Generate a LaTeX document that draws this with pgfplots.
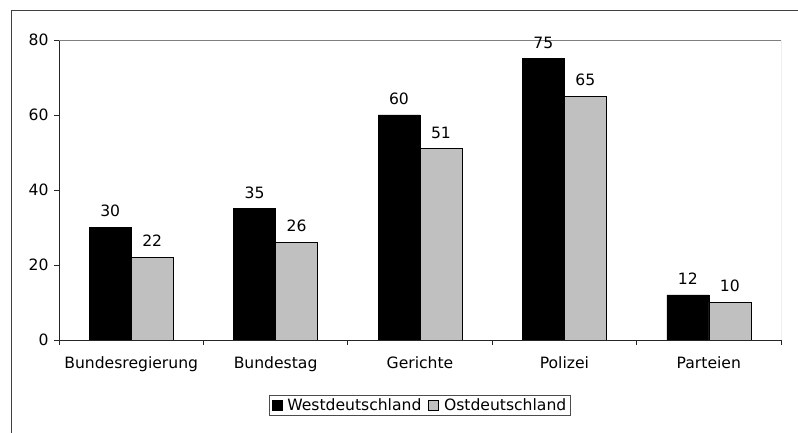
\documentclass[border=0pt]{standalone}
\usepackage{pgfplots}
\pgfplotsset{compat=1.18}
\usepackage{fontspec}
\setmainfont{DejaVu Sans}
\definecolor{barblack}{RGB}{0,0,0}
\definecolor{bargray}{RGB}{192,192,192}
\definecolor{framegray}{RGB}{64,64,64}
\definecolor{boxgray}{RGB}{128,128,128}
\begin{document}
\fontsize{15.6}{18}\selectfont
\begin{tikzpicture}[x=1pt,y=1pt]
\useasboundingbox (0,0) rectangle (798,433);
\draw[line width=0.8pt, color=framegray] (11.5,-20) -- (11.5,423) -- (830,423);
\begin{axis}[
  at={(59pt,93pt)}, anchor=south west,
  scale only axis, width=722pt, height=300pt,
  ybar=0pt, bar width=42pt,
  xmin=-0.5, xmax=4.5, ymin=0, ymax=80,
  axis x line*=bottom, axis y line*=left,
  axis line style={line width=0.8pt, black!85},
  xtick={-0.5,0.5,...,4.5}, xticklabels={},
  extra x ticks={0,1,2,3,4},
  extra x tick labels={Bundesregierung,Bundestag,Gerichte,Polizei,Parteien},
  extra x tick style={major tick length=0pt},
  xticklabel style={yshift=-11pt},
  ytick={0,20,...,80},
  tick align=outside, major tick length=5pt,
  tick style={black!85, line width=0.8pt},
  /pgf/number format/assume math mode=true,
  nodes near coords,
  every node near coord/.append style={black, yshift=5pt},
  legend style={at={(0.5,-0.218)}, anchor=center, legend columns=2,
    draw=black!70, line width=0.8pt, inner ysep=1pt, inner xsep=2pt,
    /tikz/every odd column/.append style={column sep=3pt},
    /tikz/every even column/.append style={column sep=5pt}},
  legend image code/.code={\draw[#1, line width=0.6pt] (0pt,-5pt) rectangle (10pt,5pt);},
]
\addplot[fill=barblack, draw=black, line width=0.6pt] coordinates {(0,30) (1,35) (2,60) (3,75) (4,12)};
\addplot[fill=bargray, draw=black, line width=0.6pt] coordinates {(0,22) (1,26) (2,51) (3,65) (4,10)};
\legend{Westdeutschland,Ostdeutschland}
\draw[boxgray, line width=0.8pt] (rel axis cs:0,1) -- (rel axis cs:1,1) -- (rel axis cs:1,0);
\end{axis}
\end{tikzpicture}
\end{document}
